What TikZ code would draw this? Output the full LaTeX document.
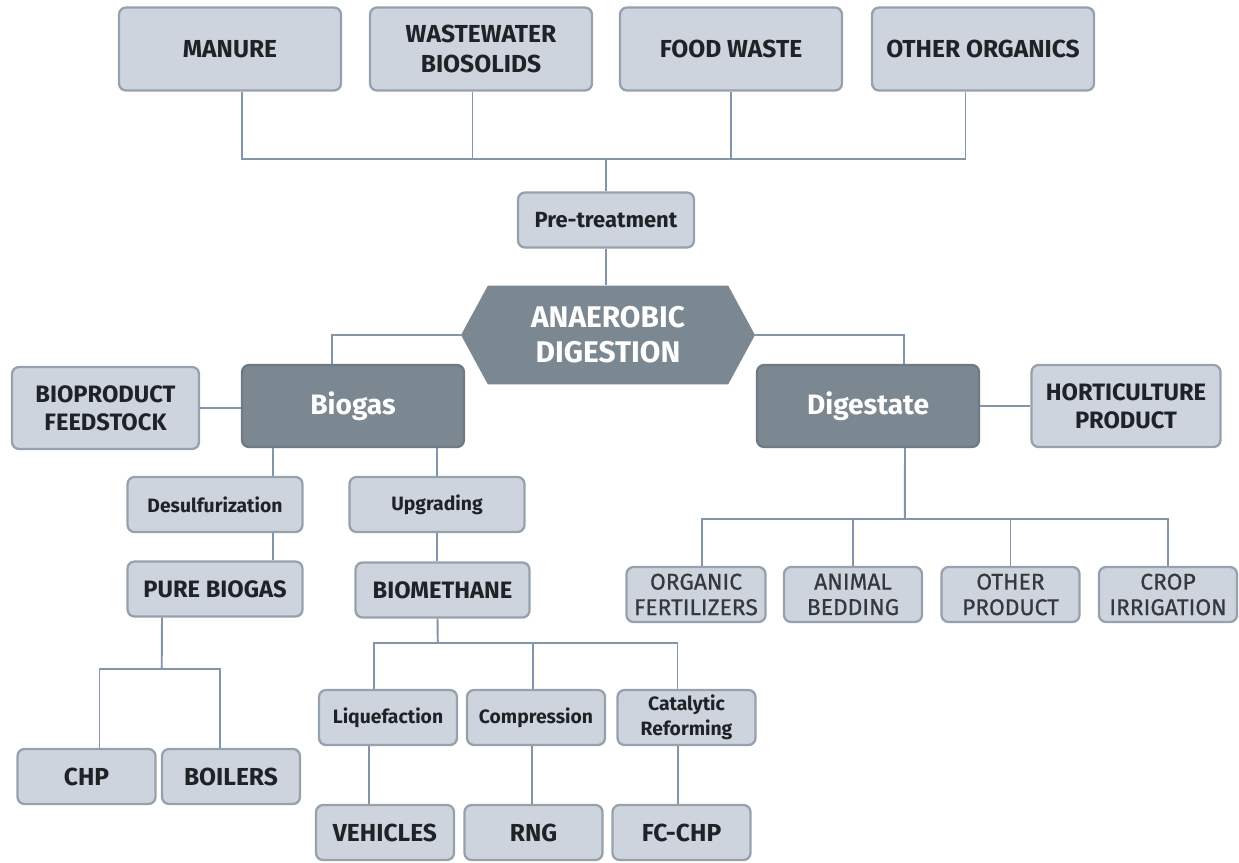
\documentclass[tikz,border=0pt]{standalone}
\usepackage{fontspec}
\setmainfont{Fira Sans}
\newfontfamily\medfont{Fira Sans}[FakeBold=0.6]
\usetikzlibrary{positioning,shapes.symbols}
\definecolor{bfill}{HTML}{CED4DD}
\definecolor{bline}{HTML}{97A1AC}
\definecolor{dfill}{HTML}{7C8891}
\definecolor{dline}{HTML}{6E7982}
\definecolor{cline}{HTML}{8395A8}
\definecolor{ink}{HTML}{1F2327}

\begin{document}
\begin{tikzpicture}[x=0.02cm, y=-0.02cm,
  box/.style={draw=bline, line width=1.3pt, rounded corners=4pt, fill=bfill, text=ink, inner sep=0pt, align=center},
  src/.style={box, minimum width=4.44cm, minimum height=1.66cm, font=\fontsize{14}{17}\selectfont\bfseries},
  side/.style={box, minimum width=3.78cm, minimum height=1.64cm, font=\fontsize{13.5}{16}\selectfont\bfseries},
  proc/.style={box, minimum width=3.5cm, minimum height=1.1cm, font=\fontsize{11}{13}\selectfont\bfseries},
  prod/.style={box, minimum width=3.5cm, minimum height=1.1cm, font=\fontsize{13.5}{16}\selectfont\bfseries},
  sbox/.style={box, minimum width=2.76cm, minimum height=1.1cm, font=\fontsize{11}{13}\selectfont\bfseries},
  sprod/.style={box, minimum width=2.76cm, minimum height=1.1cm, font=\fontsize{14}{16}\selectfont\bfseries},
  use/.style={box, minimum width=2.76cm, minimum height=1.1cm, text=ink!90, font=\fontsize{13}{14.5}\medfont},
  dark/.style={box, draw=dline, fill=dfill, text=white, minimum width=4.44cm, minimum height=1.64cm, font=\fontsize{16}{19}\selectfont\bfseries},
  ln/.style={draw=cline, line width=1.1pt}]
\path[fill=white, use as bounding box] (0,0) rectangle (1239,862);
% feedstocks
\node[src] (manure) at (230,49) {MANURE};
\node[src] (wastewater) at (481,49) {WASTEWATER\\BIOSOLIDS};
\node[src] (food) at (731,49) {FOOD WASTE};
\node[src] (other) at (983,49) {OTHER ORGANICS};
\node[proc, minimum width=3.52cm, font=\fontsize{12.5}{15}\selectfont\bfseries] (pre) at (606,220) {Pre-treatment};
\coordinate (bus1) at (606,159);
\draw[ln] ([xshift=0.24cm]manure.south) |- (bus1);
\draw[ln] ([xshift=-0.17cm]wastewater.south) |- (bus1);
\draw[ln] (food.south) |- (bus1);
\draw[ln] ([xshift=-0.35cm]other.south) |- (bus1);
\draw[ln] (bus1) -- (pre.north);
% digester
\node[signal, signal to=west and east, signal pointer angle=123, fill=dfill, text=white, inner sep=0pt,
  minimum width=5.88cm, minimum height=1.98cm, align=center, font=\fontsize{17}{20}\selectfont\bfseries] (ad) at (608,335) {ANAEROBIC\\DIGESTION};
\draw[ln] (pre.south) -- (pre.south |- ad.north);
\node[dark] (biogas) at (353,406) {Biogas};
\node[dark] (digestate) at (868,406) {Digestate};
\node[side, minimum width=3.74cm] (bioproduct) at (105.5,408) {BIOPRODUCT\\FEEDSTOCK};
\node[side] (hort) at (1126,406) {HORTICULTURE\\PRODUCT};
\draw[ln] (ad.west) -| ([xshift=-0.42cm]biogas.north);
\draw[ln] (ad.east) -| ([xshift=0.72cm]digestate.north);
\draw[ln] (bioproduct.east) -- (bioproduct.east -| biogas.west);
\draw[ln] (digestate.east) -- (digestate.east -| hort.west);
% biogas branch
\node[proc] (desulf) at (215,504.5) {Desulfurization};
\node[proc] (upgrading) at (437,504.5) {Upgrading};
\node[prod] (pure) at (215,589) {PURE BIOGAS};
\node[prod, minimum width=3.48cm] (biomethane) at (442.5,590) {BIOMETHANE};
\draw[ln] ([xshift=-1.6cm]biogas.south) -- ([xshift=-1.6cm]biogas.south |- desulf.north);
\draw[ln] (upgrading.north |- biogas.south) -- (upgrading.north);
\draw[ln] ([xshift=1.16cm]desulf.south) -- ([xshift=1.16cm]pure.north);
\draw[ln] (upgrading.south) -- (upgrading.south |- biomethane.north);
\node[sprod] (chp) at (86.5,776.5) {CHP};
\node[sprod] (boilers) at (231,776.5) {BOILERS};
\coordinate (bus3) at (161.7,669);
\draw[ln] ([xshift=-1.06cm]pure.south) -- (bus3);
\draw[ln] (bus3) -| ([xshift=0.26cm]chp.north);
\draw[ln] (bus3) -| ([xshift=-0.22cm]boilers.north);
\node[sbox] (liq) at (388,717.5) {Liquefaction};
\node[sbox] (comp) at (536,717.5) {Compression};
\node[sbox, font=\fontsize{11}{14}\selectfont\bfseries] (cat) at (686.5,717.5) {Catalytic\\Reforming};
\coordinate (bus4) at (437.8,642.7);
\draw[ln] ([xshift=-0.1cm]biomethane.south) -- (bus4);
\draw[ln] (bus4) -| ([xshift=-0.28cm]liq.north);
\draw[ln] (bus4) -| ([xshift=-0.06cm]comp.north);
\draw[ln] (bus4) -| ([xshift=-0.18cm]cat.north);
\node[sprod] (vehicles) at (385,832.5) {VEHICLES};
\node[sprod] (rng) at (533.5,832.5) {RNG};
\node[sprod] (fcchp) at (681.5,832.5) {FC-CHP};
\draw[ln] ([xshift=-0.38cm]liq.south) -- ([xshift=-0.38cm]liq.south |- vehicles.north);
\draw[ln] ([xshift=-0.08cm]comp.south) -- ([xshift=-0.08cm]comp.south |- rng.north);
\draw[ln] ([xshift=-0.17cm]cat.south) -- ([xshift=-0.17cm]cat.south |- fcchp.north);
% digestate branch
\node[use, minimum width=2.78cm] (fert) at (696,594.5) {ORGANIC\\FERTILIZERS};
\node[use] (bedding) at (853,594.5) {ANIMAL\\BEDDING};
\node[use] (otherprod) at (1010.5,594.5) {OTHER\\PRODUCT};
\node[use] (crop) at (1168,594.5) {CROP\\IRRIGATION};
\coordinate (bus2) at (904.8,519);
\draw[ln] ([xshift=0.74cm]digestate.south) -- (bus2);
\draw[ln] (bus2) -| ([xshift=0.12cm]fert.north);
\draw[ln] (bus2) -| (bedding.north);
\draw[ln] (bus2) -| (otherprod.north);
\draw[ln] (bus2) -| (crop.north);
\end{tikzpicture}
\end{document}
